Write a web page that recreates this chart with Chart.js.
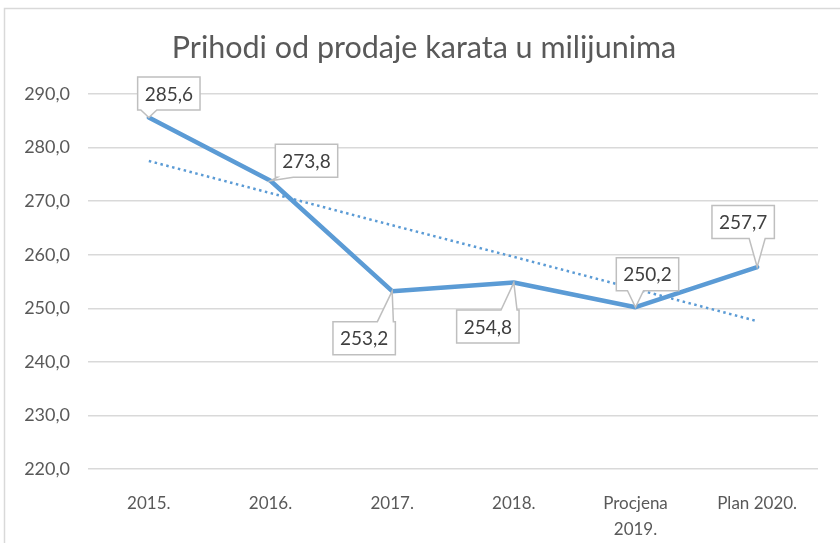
<!DOCTYPE html>
<html><head><meta charset="utf-8">
<script src="https://cdn.jsdelivr.net/npm/chart.js@4"></script>
<style>html,body{margin:0;padding:0;background:#fff}#wrap{width:840px;height:543px}</style>
</head><body><div id="wrap"><canvas id="c" width="840" height="543"></canvas></div>
<script>
// ---- data ----
const categories = ['2015.', '2016.', '2017.', '2018.', ['Procjena', '2019.'], 'Plan 2020.'];
const revenue = [285.6, 273.8, 253.2, 254.8, 250.2, 257.7];
const trend = [277.5, 271.5, 265.5, 259.6, 253.6, 247.6];
const yMin = 220, yMax = 290, yStep = 10;
const titleText = 'Prihodi od prodaje karata u milijunima';

// ---- style ----
const FONT = 'Lato, "Open Sans", sans-serif';
const labelOffsets = [[20, -24], [36, -20], [-28, 47], [-26, 44], [12, -33], [-14, -45]];
const fmt = v => v.toFixed(1).replace('.', ',');

const frame = {
  id: 'frame',
  beforeDraw(chart) {
    const ctx = chart.ctx;
    ctx.save();
    ctx.fillStyle = '#fff';
    ctx.fillRect(0, 0, chart.width, chart.height);
    ctx.strokeStyle = '#d9d9d9';
    ctx.lineWidth = 1.5;
    ctx.beginPath();
    ctx.moveTo(840, 8.5); ctx.lineTo(4.5, 8.5); ctx.lineTo(4.5, 543);
    ctx.stroke();
    ctx.fillStyle = '#595959';
    ctx.font = '30.5px ' + FONT;
    ctx.textAlign = 'center';
    ctx.textBaseline = 'middle';
    ctx.fillText(titleText, 424, 48);
    ctx.restore();
  }
};

const callouts = {
  id: 'callouts',
  afterDatasetsDraw(chart) {
    const ctx = chart.ctx;
    const meta = chart.getDatasetMeta(0);
    ctx.save();
    ctx.font = '19px ' + FONT;
    meta.data.forEach((pt, i) => {
      const txt = fmt(revenue[i]);
      const tw = ctx.measureText(txt).width;
      const w = tw + 14, h = 33;
      const cx = pt.x + labelOffsets[i][0], cy = pt.y + labelOffsets[i][1];
      const l = cx - w / 2, r = cx + w / 2, t = cy - h / 2, b = cy + h / 2;
      const bx = Math.min(Math.max(pt.x, l + 10), r - 10);
      const b0 = bx - 8, b1 = bx + 8;
      ctx.beginPath();
      if (pt.y > b) {
        ctx.moveTo(l, t); ctx.lineTo(r, t); ctx.lineTo(r, b);
        ctx.lineTo(b1, b); ctx.lineTo(pt.x, pt.y); ctx.lineTo(b0, b);
        ctx.lineTo(l, b); ctx.closePath();
      } else {
        ctx.moveTo(l, b); ctx.lineTo(r, b); ctx.lineTo(r, t);
        ctx.lineTo(b1, t); ctx.lineTo(pt.x, pt.y); ctx.lineTo(b0, t);
        ctx.lineTo(l, t); ctx.closePath();
      }
      ctx.fillStyle = '#fff';
      ctx.fill();
      ctx.strokeStyle = '#bfbfbf';
      ctx.lineWidth = 1.5;
      ctx.stroke();
      ctx.fillStyle = '#404040';
      ctx.textAlign = 'center';
      ctx.textBaseline = 'middle';
      ctx.fillText(txt, cx, cy + 1);
    });
    ctx.restore();
  }
};

new Chart(document.getElementById('c'), {
  type: 'line',
  data: {
    labels: categories,
    datasets: [
      {
        data: revenue,
        borderColor: '#5b9bd5',
        borderWidth: 4.5,
        pointRadius: 0,
        tension: 0,
        borderJoinStyle: 'round',
        borderCapStyle: 'round',
        fill: false
      },
      {
        data: trend,
        borderColor: '#5b9bd5',
        borderWidth: 2.5,
        borderDash: [2.5, 3.5],
        pointRadius: 0,
        tension: 0,
        fill: false
      }
    ]
  },
  options: {
    responsive: false,
    animation: false,
    devicePixelRatio: 1,
    layout: { padding: { left: 0, right: 22, top: 94, bottom: 0 } },
    plugins: {
      legend: { display: false },
      tooltip: { enabled: false },
      title: { display: false }
    },
    scales: {
      x: {
        offset: true,
        grid: { display: false, offset: true },
        border: { display: false },
        ticks: {
          color: '#595959',
          font: { family: FONT, size: 17, lineHeight: 1.5 },
          padding: 14,
          maxRotation: 0,
          autoSkip: false
        },
        afterFit: s => { s.height = 74; }
      },
      y: {
        min: yMin, max: yMax,
        grid: { color: '#d9d9d9', lineWidth: 1.5, drawTicks: false },
        border: { display: false },
        ticks: {
          stepSize: yStep,
          color: '#595959',
          font: { family: FONT, size: 18 },
          padding: 18,
          callback: v => fmt(v)
        },
        afterFit: s => { s.width = 88; }
      }
    }
  },
  plugins: [frame, callouts]
});
</script>
</body></html>
